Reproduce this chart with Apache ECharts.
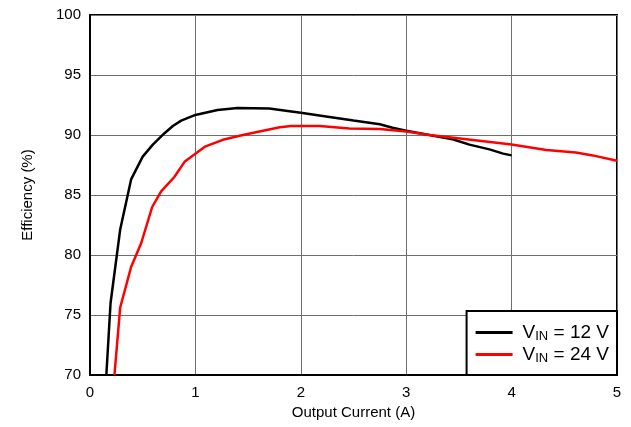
<!DOCTYPE html>
<html><head><meta charset="utf-8">
<script src="https://cdn.jsdelivr.net/npm/echarts@6/dist/echarts.min.js"></script>
<style>html,body{margin:0;padding:0;background:#fff}#c{width:631px;height:427px}</style>
</head><body><div id="c"></div>
<script>
const xTicks = [0, 1, 2, 3, 4, 5];
const yTicks = [70, 75, 80, 85, 90, 95, 100];
const seriesNames = ['VIN = 12 V', 'VIN = 24 V'];
const current12 = [0.155, 0.195, 0.286, 0.39, 0.5, 0.596, 0.707, 0.786, 0.865, 1.0, 1.21, 1.4, 1.7, 2.0, 2.24, 2.5, 2.75, 2.87, 3.0, 3.22, 3.44, 3.6, 3.79, 3.92, 4.0];
const eff12 = [70, 76.0, 82.1, 86.3, 88.2, 89.2, 90.15, 90.75, 91.2, 91.67, 92.08, 92.25, 92.2, 91.85, 91.55, 91.2, 90.9, 90.6, 90.35, 90.0, 89.65, 89.2, 88.8, 88.45, 88.3];
const current24 = [0.232, 0.286, 0.39, 0.486, 0.59, 0.675, 0.8, 0.9, 1.09, 1.26, 1.45, 1.8, 1.91, 2.18, 2.46, 2.75, 3.0, 3.22, 3.51, 4.0, 4.33, 4.61, 4.77, 5.0];
const eff24 = [70, 75.6, 79.0, 81.0, 84.0, 85.3, 86.5, 87.8, 89.03, 89.6, 90.0, 90.65, 90.75, 90.75, 90.55, 90.5, 90.3, 90.0, 89.7, 89.2, 88.75, 88.55, 88.3, 87.85];

const pairs = (xs, ys) => xs.map((x, i) => [x, ys[i]]);
const font = 'Liberation Sans, Arial, sans-serif';
const chart = echarts.init(document.getElementById('c'), null, {renderer: 'canvas'});
chart.setOption({
  animation: false,
  textStyle: {fontFamily: font},
  grid: {left: 90, right: 14, top: 15, bottom: 52, show: true, borderColor: '#000', borderWidth: 2, backgroundColor: 'transparent'},
  xAxis: {
    type: 'value', min: xTicks[0], max: xTicks[xTicks.length - 1], interval: 1,
    name: 'Output Current (A)', nameLocation: 'middle', nameGap: 30,
    nameTextStyle: {color: '#000', fontSize: 15, fontFamily: font},
    axisLine: {show: true, lineStyle: {color: '#000', width: 2}},
    axisTick: {show: false},
    axisLabel: {color: '#000', fontSize: 15, margin: 10, fontFamily: font},
    splitLine: {show: true, lineStyle: {color: '#6e6e6e', width: 1}}
  },
  yAxis: {
    type: 'value', min: yTicks[0], max: yTicks[yTicks.length - 1], interval: 5,
    name: 'Efficiency (%)', nameLocation: 'middle', nameGap: 55,
    nameTextStyle: {color: '#000', fontSize: 15, fontFamily: font},
    axisLine: {show: true, lineStyle: {color: '#000', width: 2}},
    axisTick: {show: false},
    axisLabel: {color: '#000', fontSize: 15, margin: 9, fontFamily: font},
    splitLine: {show: true, lineStyle: {color: '#6e6e6e', width: 1}}
  },
  legend: {
    orient: 'vertical', right: 14, bottom: 52,
    backgroundColor: '#fff', borderColor: '#000', borderWidth: 2,
    padding: [11, 8, 10, 9], itemGap: 1,
    itemWidth: 37, itemHeight: 3, icon: 'rect',
    data: seriesNames,
    formatter: n => {
      const parts = n.split(' = ');
      return '{f|V}{s|IN}{v| = ' + parts[1] + '}';
    },
    textStyle: {
      color: '#000', fontFamily: font,
      rich: {
        f: {fontSize: 19, lineHeight: 19, color: '#000', fontFamily: font, padding: [0, 0, 0, 5]},
        v: {fontSize: 19, lineHeight: 19, color: '#000', fontFamily: font},
        s: {fontSize: 13, lineHeight: 19, color: '#000', fontFamily: font, padding: [8, 0, 0, 0]}
      }
    }
  },
  series: [
    {name: seriesNames[0], type: 'line', data: pairs(current12, eff12), showSymbol: false, lineStyle: {color: '#000', width: 2.5}, itemStyle: {color: '#000'}, clip: true},
    {name: seriesNames[1], type: 'line', data: pairs(current24, eff24), showSymbol: false, lineStyle: {color: '#ff0000', width: 2.5}, itemStyle: {color: '#ff0000'}, clip: true}
  ]
});
</script></body></html>
